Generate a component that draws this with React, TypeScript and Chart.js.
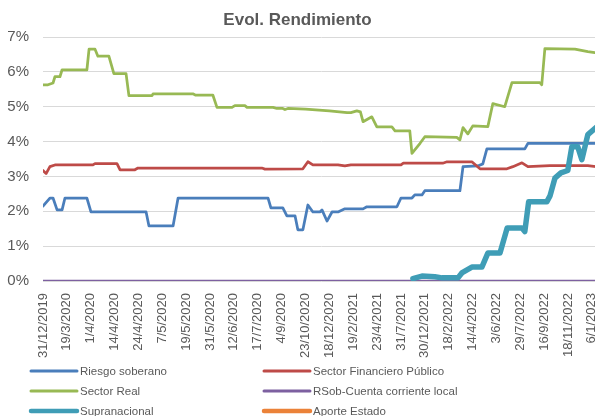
import React, { useEffect, useRef } from "react";
import { Chart, registerables } from "chart.js";

Chart.register(...registerables);

const titleText = "Evol. Rendimiento";

const dateLabels = [
  "31/12/2019", "19/3/2020", "1/4/2020", "14/4/2020", "24/4/2020", "7/5/2020",
  "19/5/2020", "31/5/2020", "12/6/2020", "17/7/2020", "4/9/2020", "23/10/2020",
  "18/12/2020", "19/2/2021", "23/4/2021", "31/7/2021", "30/12/2021", "18/2/2022",
  "14/4/2022", "3/6/2022", "29/7/2022", "16/9/2022", "18/11/2022", "6/1/2023",
];

const yTicks = [0, 1, 2, 3, 4, 5, 6, 7];

// x positions are measured in tick-label units (0 = 31/12/2019, 1 = 19/3/2020, ...)
const riesgoX = [0, 0.29, 0.42, 0.59, 0.8, 0.92, 1.84, 2.01, 4.32, 4.44, 5.45, 5.66, 9.43, 9.55, 10.05, 10.22, 10.56, 10.68, 10.89, 11.1, 11.31, 11.6, 11.69, 11.9, 12.11, 12.36, 12.65, 13.41, 13.57, 14.83, 15.0, 15.46, 15.58, 15.88, 16.0, 17.47, 17.6, 18.22, 18.43, 18.6, 20.19, 20.32, 23.34];
const riesgoY = [2.15, 2.38, 2.38, 2.04, 2.04, 2.38, 2.38, 1.98, 1.98, 1.58, 1.58, 2.38, 2.38, 2.1, 2.1, 1.87, 1.87, 1.47, 1.47, 2.18, 1.98, 1.98, 2.04, 1.72, 1.98, 1.98, 2.07, 2.07, 2.13, 2.13, 2.38, 2.38, 2.47, 2.47, 2.59, 2.59, 3.28, 3.3, 3.36, 3.79, 3.79, 3.95, 3.95];

const financieroX = [0, 0.13, 0.29, 0.5, 2.09, 2.18, 3.1, 3.23, 3.85, 3.98, 9.17, 9.3, 10.89, 11.1, 11.31, 12.36, 12.65, 12.9, 15.0, 15.1, 16.75, 16.93, 17.97, 18.31, 19.44, 19.69, 20.07, 20.32, 21.24, 22.83, 23.34];
const financieroY = [3.17, 3.08, 3.28, 3.33, 3.33, 3.37, 3.37, 3.19, 3.19, 3.24, 3.24, 3.21, 3.22, 3.42, 3.33, 3.33, 3.3, 3.33, 3.33, 3.38, 3.38, 3.42, 3.42, 3.22, 3.22, 3.28, 3.39, 3.28, 3.31, 3.31, 3.27];

const realX = [0, 0.21, 0.42, 0.5, 0.71, 0.8, 1.84, 1.93, 2.18, 2.3, 2.76, 2.97, 3.48, 3.6, 4.57, 4.61, 6.28, 6.4, 7.12, 7.29, 7.92, 8.04, 8.46, 8.55, 9.64, 9.8, 10.05, 10.14, 10.26, 11.0, 12.0, 12.74, 12.9, 13.15, 13.3, 13.41, 13.78, 13.99, 14.62, 14.75, 15.37, 15.46, 15.8, 16.0, 17.34, 17.47, 17.6, 17.8, 18.01, 18.64, 18.85, 19.35, 19.65, 20.82, 20.9, 21.03, 22.29, 22.83, 23.34];
const realY = [5.63, 5.63, 5.68, 5.86, 5.86, 6.06, 6.06, 6.65, 6.65, 6.45, 6.45, 5.95, 5.95, 5.32, 5.32, 5.37, 5.37, 5.33, 5.33, 4.98, 4.98, 5.03, 5.03, 4.98, 4.98, 4.95, 4.95, 4.92, 4.95, 4.93, 4.88, 4.83, 4.83, 4.88, 4.85, 4.57, 4.71, 4.42, 4.42, 4.31, 4.31, 3.66, 3.95, 4.14, 4.12, 4.05, 4.4, 4.22, 4.45, 4.43, 5.09, 5.0, 5.69, 5.69, 5.63, 6.67, 6.65, 6.58, 6.53];

const cuentaLocalX = [0, 23.34];
const cuentaLocalY = [0, 0];

const supraX = [15.5, 15.88, 16.42, 16.72, 17.39, 17.55, 17.97, 18.39, 18.64, 19.15, 19.45, 20.07, 20.19, 20.35, 21.11, 21.25, 21.45, 21.7, 21.99, 22.16, 22.41, 22.58, 22.83, 23.34];
const supraY = [0.07, 0.14, 0.12, 0.09, 0.09, 0.23, 0.4, 0.4, 0.8, 0.8, 1.52, 1.52, 1.42, 2.27, 2.27, 2.45, 2.95, 3.1, 3.17, 3.85, 3.85, 3.48, 4.2, 4.5];

const aporteX: number[] = [];
const aporteY: number[] = [];

const seriesNames = [
  "Riesgo soberano",
  "Sector Financiero Público",
  "Sector Real",
  "RSob-Cuenta corriente local",
  "Supranacional",
  "Aporte Estado",
];
const seriesColors = ["#4A7EBB", "#BE4B48", "#98B954", "#7D60A0", "#3F9DB6", "#EB8239"];
const seriesWidths = [2.75, 2.75, 2.75, 2.75, 5.5, 5];

const X_MAX = 23.34;
const FONT = "'Liberation Sans', Arial, sans-serif";
const TEXT = "#595959";

function pts(xs: number[], ys: number[]) {
  return xs.map((x, i) => ({ x, y: ys[i] }));
}

const overlayPlugin = {
  id: "overlay",
  afterDraw(chart: any) {
    const ctx = chart.ctx;
    ctx.save();
    ctx.fillStyle = TEXT;
    ctx.font = `bold 17px ${FONT}`;
    ctx.textAlign = "center";
    ctx.textBaseline = "middle";
    ctx.fillText(titleText, 297.5, 20.5);

    const cols = [31, 264];
    const rows = [371, 391, 411];
    ctx.font = `11.5px ${FONT}`;
    ctx.textAlign = "left";
    chart.data.datasets.forEach((ds: any, i: number) => {
      const x = cols[i % 2];
      const y = rows[Math.floor(i / 2)];
      ctx.strokeStyle = ds.borderColor;
      ctx.lineWidth = i >= 4 ? 4.5 : 3;
      ctx.lineCap = "round";
      ctx.beginPath();
      ctx.moveTo(x, y);
      ctx.lineTo(x + 46, y);
      ctx.stroke();
      ctx.fillStyle = TEXT;
      ctx.fillText(ds.label, x + 49, y + 0.5);
    });
    ctx.restore();
  },
};

export default function App() {
  const ref = useRef<HTMLCanvasElement>(null);

  useEffect(() => {
    if (!ref.current) return;
    const xsList = [riesgoX, financieroX, realX, cuentaLocalX, supraX, aporteX];
    const ysList = [riesgoY, financieroY, realY, cuentaLocalY, supraY, aporteY];
    const chart = new Chart(ref.current, {
      type: "line",
      data: {
        datasets: seriesNames.map((name, i) => ({
          label: name,
          data: pts(xsList[i], ysList[i]),
          borderColor: seriesColors[i],
          backgroundColor: seriesColors[i],
          borderWidth: seriesWidths[i],
          pointRadius: 0,
          tension: 0,
          borderJoinStyle: "round",
          borderCapStyle: "round",
          order: 5 - i,
        })),
      },
      options: {
        animation: false,
        responsive: false,
        devicePixelRatio: 1,
        layout: { padding: { left: 0, top: 37, right: 20, bottom: 79 } },
        plugins: {
          legend: { display: false },
          title: { display: false },
          tooltip: { enabled: false },
        },
        scales: {
          x: {
            type: "linear",
            min: 0,
            max: X_MAX,
            afterBuildTicks: (s: any) => {
              s.ticks = dateLabels.map((_, i) => ({ value: i }));
            },
            afterFit: (s: any) => {
              s.height = 80;
            },
            grid: { display: false },
            border: { display: false },
            ticks: {
              autoSkip: false,
              includeBounds: false,
              minRotation: 90,
              maxRotation: 90,
              padding: 4,
              color: TEXT,
              font: { family: FONT, size: 13 },
              callback: (v: any) => dateLabels[Math.round(Number(v))] ?? "",
            },
          },
          y: {
            min: 0,
            max: 7,
            afterBuildTicks: (s: any) => {
              s.ticks = yTicks.map((v) => ({ value: v }));
            },
            afterFit: (s: any) => {
              s.width = 43;
            },
            grid: { color: "#D9D9D9", lineWidth: 1, drawTicks: false },
            border: { display: false },
            ticks: {
              padding: 14,
              color: TEXT,
              font: { family: FONT, size: 15 },
              callback: (v: any) => `${v}%`,
            },
          },
        },
      },
      plugins: [overlayPlugin],
    });
    return () => chart.destroy();
  }, []);

  return (
    <div
      style={{
        position: "fixed",
        left: 0,
        top: 0,
        width: 595,
        height: 416,
        overflow: "hidden",
        background: "#fff",
      }}
    >
      <canvas ref={ref} width={620} height={440} style={{ width: 620, height: 440 }} />
    </div>
  );
}
